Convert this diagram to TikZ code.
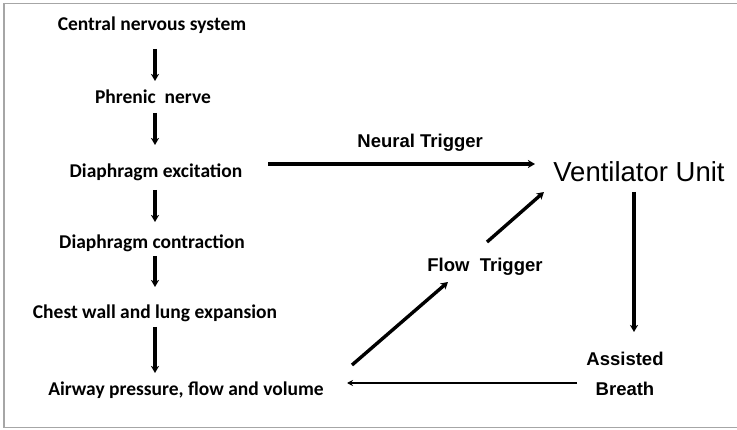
\documentclass[tikz,border=0pt]{standalone}
\usepackage{fontspec}
\setmainfont{Carlito}
\newfontfamily\arialfont{Liberation Sans}
\usepackage{tikz}
\usetikzlibrary{arrows.meta, positioning}
\tikzstyle{step box} = [inner sep=0pt, font=\bfseries\fontsize{19.5}{22}\selectfont]
\tikzstyle{trig box} = [inner sep=0pt, font=\arialfont\bfseries\fontsize{18.5}{30}\selectfont, align=center]
\tikzstyle{arrow} = [line width=3.4pt, -{Stealth[length=7pt,width=8pt,inset=2pt]}]
\tikzstyle{thin arrow} = [line width=1.6pt, -{Stealth[length=6pt,width=6pt,inset=2pt]}]

\begin{document}
\begin{tikzpicture}[x=1pt, y=1pt]
                \useasboundingbox (0,0) rectangle (737,-430);
                \draw [gray!70, line width=1.8pt] (737,-3.5) -- (4,-3.5) -- (4,-427.5) -- (737,-427.5);

                % left column
                \node (cns) [step box] at (152,-25) {Central nervous system};
                \node (phrenic) [step box] at (153,-97) {Phrenic\ \ nerve};
                \node (excit) [step box] at (156,-172) {Diaphragm excitation};
                \node (contr) [step box] at (152,-243) {Diaphragm contraction};
                \node (chest) [step box] at (155,-313) {Chest wall and lung expansion};
                \node (airway) [step box] at (186,-390) {Airway pressure, flow and volume};

                % right side
                \node (vent) [inner sep=0pt, font=\arialfont\fontsize{27.5}{30}\selectfont] at (639,-172) {Ventilator Unit};
                \node (flow) [trig box] at (485,-267) {Flow\ \ Trigger};
                \node (assist) [trig box] at (625,-374) {Assisted\\Breath};

                \draw [arrow] ([xshift=3pt,yshift=-24pt]cns.center) -- ([xshift=2pt,yshift=16pt]phrenic.center);
                \draw [arrow] ([xshift=2pt,yshift=-16pt]phrenic.center) -- ([xshift=-1pt,yshift=27pt]excit.center);
                \draw [arrow] ([xshift=-1pt,yshift=-18pt]excit.center) -- ([xshift=3pt,yshift=21pt]contr.center);
                \draw [arrow] ([xshift=3pt,yshift=-13pt]contr.center) -- ([xshift=0pt,yshift=26pt]chest.center);
                \draw [arrow] ([xshift=0pt,yshift=-14pt]chest.center) -- ([xshift=-31pt,yshift=17pt]airway.center);

                \draw [arrow] ([xshift=112pt,yshift=8pt]excit.center) -- ([xshift=-104pt,yshift=8pt]vent.center)
                    node [pos=0.57, yshift=21pt, trig box] {Neural Trigger};
                \draw [arrow] ([xshift=166pt,yshift=25pt]airway.center) -- ([xshift=-37pt,yshift=-15pt]flow.center);
                \draw [arrow] ([xshift=2pt,yshift=25pt]flow.center) -- ([xshift=-95pt,yshift=-20pt]vent.center);
                \draw [arrow] ([xshift=-5pt,yshift=-20pt]vent.center) -- ([xshift=9pt,yshift=42pt]assist.center);
                \draw [thin arrow] ([xshift=-48pt,yshift=-9pt]assist.center) -- ([xshift=161pt,yshift=7pt]airway.center);
            \end{tikzpicture}
\end{document}
